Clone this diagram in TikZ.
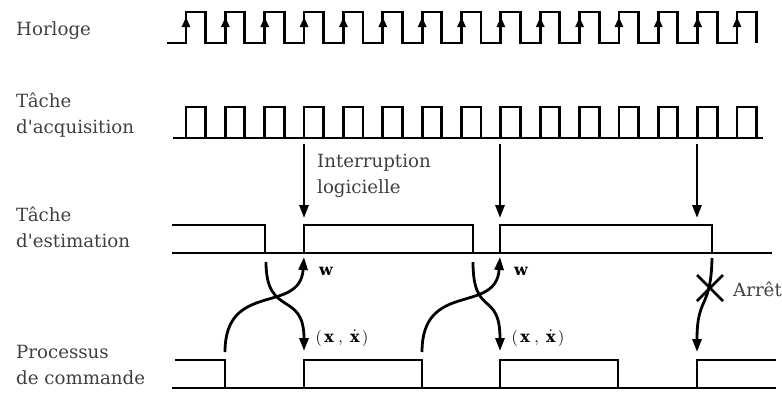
\documentclass[tikz,border=0pt]{standalone}
\usepackage{graphicx}
\usepackage{fontspec}
\setmainfont{DejaVu Serif}
\usetikzlibrary{arrows.meta}

\begin{document}
\begin{tikzpicture}[x = 1pt, y = -1pt,
  sig/.style = {line width = 2.8pt, line join = miter},
  arr/.style = {line width = 2.8pt, -{Triangle[length = 13pt, width = 9pt]}},
  clk/.style = {line width = 2.8pt, -{Triangle[length = 10pt, width = 8pt]}},
  lbl/.style = {anchor = west, align = left, text = black!75,
                font = \fontsize{18.2}{26}\selectfont, inner sep = 0pt},
  mth/.style = {inner sep = 0pt}]

\useasboundingbox (0, 0) rectangle (782, 392);

% labels on the left
\node[lbl] (lblclock) at (16, 31) {Horloge};
\node[lbl] (lblacq) at (16, 115) {T\^ache\\d\textquotesingle acquisition};
\node[lbl] (lblest) at (16, 227) {T\^ache\\d\textquotesingle estimation};
\node[lbl] (lblcmd) at (16, 365) {Processus\\de commande};

% the clock, with an arrow on each rising edge
\draw[sig] (167, 43)
  \foreach \k in {0,...,14} {
    -- ({186 + 39.36*\k}, 43) -- ++(0, -31) -- ++(19.5, 0) -- ++(0, 31)
  };
\foreach \k in {0,...,14}
  \draw[clk] ({186 + 39.36*\k}, 43) -- ++(0, -26);

% acquisition task
\draw[sig] (173, 138) -- (763, 138);
\foreach \k in {0,...,14}
  \draw[sig] ({186 + 39.36*\k}, 138) -- ++(0, -31) -- ++(19.5, 0) -- ++(0, 31);

% estimation task
\draw[sig] (172, 253) -- (772, 253);
\draw[sig] (172, 225) -- (265, 225) -- (265, 253);
\draw[sig] (304, 253) -- (304, 225) -- (473, 225) -- (473, 253);
\draw[sig] (500, 253) -- (500, 225) -- (712, 225) -- (712, 253);

% command process
\draw[sig] (172, 388) -- (776, 388);
\draw[sig] (175, 360) -- (225, 360) -- (225, 388);
\draw[sig] (304, 388) -- (304, 360) -- (422, 360) -- (422, 388);
\draw[sig] (500, 388) -- (500, 360) -- (618, 360) -- (618, 388);
\draw[sig] (697, 388) -- (697, 360) -- (776, 360);

% software interrupts
\coordinate (ia1) at (304, 144);
\coordinate (ib1) at (304, 218);
\coordinate (ia2) at (500, 144);
\coordinate (ib2) at (500, 218);
\coordinate (ia3) at (697, 144);
\coordinate (ib3) at (697, 218);
\draw[arr] (ia1) -- (ib1);
\draw[arr] (ia2) -- (ib2);
\draw[arr] (ia3) -- (ib3);
\node[lbl] (interr) at (317, 176) {Interruption\\logicielle};

% exchanges between estimation and command
\coordinate (ed1) at (266, 262);
\coordinate (cu1) at (304, 351);
\coordinate (cd1) at (225, 352);
\coordinate (eu1) at (304, 257);
\coordinate (ed2) at (473, 262);
\coordinate (cu2) at (500, 351);
\coordinate (cd2) at (422, 352);
\coordinate (eu2) at (500, 257);
\draw[arr] (ed1) .. controls (266, 318) and (304, 290) .. (cu1);
\draw[arr] (cd1) .. controls (225, 280) and (300, 315) .. (eu1);
\draw[arr] (ed2) .. controls (473, 318) and (500, 290) .. (cu2);
\draw[arr] (cd2) .. controls (422, 280) and (496, 315) .. (eu2);
\node[mth] (w1) at (326, 271) {\scalebox{1.6}{$\mathbf{w}$}};
\node[mth] (w2) at (521, 271) {\scalebox{1.6}{$\mathbf{w}$}};
\node[mth] (xx1) at (342, 338)
  {\scalebox{1.6}{$\left(\,\mathbf{x}\;,\;\dot{\mathbf{x}}\,\right)$}};
\node[mth] (xx2) at (538, 338)
  {\scalebox{1.6}{$\left(\,\mathbf{x}\;,\;\dot{\mathbf{x}}\,\right)$}};

% last exchange, stopped
\coordinate (ed3) at (712, 258);
\coordinate (cu3) at (697, 352);
\draw[arr] (ed3) .. controls (711, 310) and (697, 295) .. (cu3);
\draw[sig] (697, 275) -- (723, 301);
\draw[sig] (697, 301) -- (723, 275);
\node[lbl] (stop) at (733, 289) {Arr\^et};

\end{tikzpicture}
\end{document}
